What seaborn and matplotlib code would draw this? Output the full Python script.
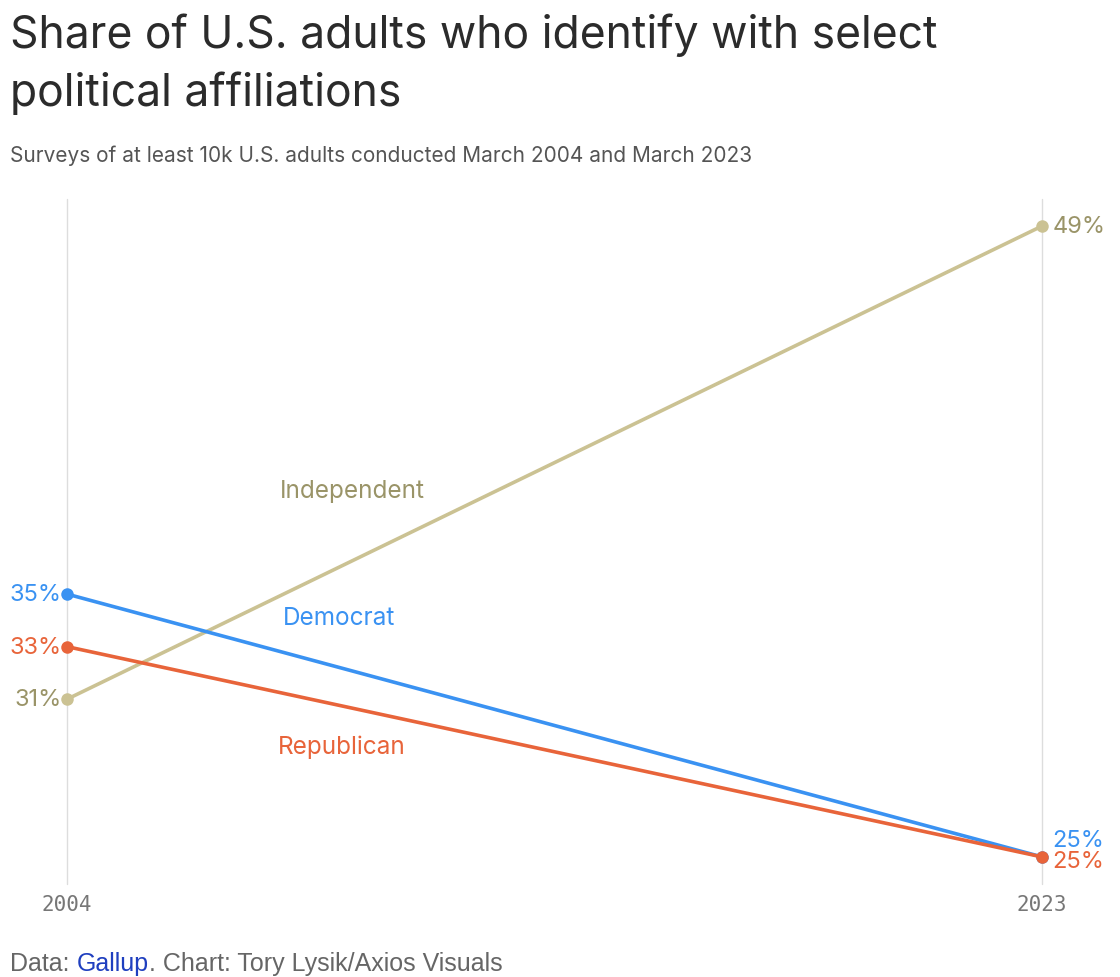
import numpy as np
import pandas as pd
import seaborn as sns
import matplotlib.pyplot as plt

years = [2004, 2023]
parties = ['Independent', 'Democrat', 'Republican']
independent = [31, 49]
democrat = [35, 25]
republican = [33, 25]

line_colors = {'Independent': '#cbc293', 'Democrat': '#3a92f2', 'Republican': '#e8643a'}
text_colors = {'Independent': '#9a9468', 'Democrat': '#3a92f2', 'Republican': '#e8643a'}

df = pd.DataFrame({
    'year': years * 3,
    'party': [p for p in parties for _ in years],
    'share': independent + democrat + republican,
})

sns.set_style('white')
plt.rcParams['font.family'] = ['Inter', 'DejaVu Sans']

fig = plt.figure(figsize=(11.2, 9.78), dpi=100)
ax = fig.add_axes([67 / 1120, 1 - 885 / 978, 975 / 1120, 685 / 978])

sns.lineplot(data=df, x='year', y='share', hue='party', palette=line_colors,
             linewidth=2.6, marker='o', markersize=9, markeredgewidth=0,
             legend=False, ax=ax, clip_on=False)

ax.set_xlim(2004, 2023)
ax.set_ylim(23.97, 50.03)
for x in years:
    ax.axvline(x, color='#dddddd', linewidth=1, zorder=0, clip_on=False)
for s in ax.spines.values():
    s.set_visible(False)
ax.set_yticks([])
ax.set_xticks(years)
ax.set_xticklabels([str(y) for y in years], family='DejaVu Sans Mono',
                   fontsize=15, color='#777777')
ax.tick_params(axis='x', length=0, pad=7)
ax.set_xlabel('')
ax.set_ylabel('')

# endpoint labels
vals = {'Independent': independent, 'Democrat': democrat, 'Republican': republican}
end_offset = {'Independent': 0, 'Democrat': 0.65, 'Republican': -0.15}
for p in parties:
    v0, v1 = vals[p]
    ax.text(2004 - 0.1, v0, f'{v0}%', ha='right', va='center', fontsize=17,
            color=text_colors[p])
    ax.text(2023 + 0.2, v1 + end_offset[p], f'{v1}%', ha='left', va='center',
            fontsize=17, color=text_colors[p])

# series labels
ax.text(2008.15, 38.95, 'Independent', fontsize=17.5, color=text_colors['Independent'], va='center')
ax.text(2008.2, 34.1, 'Democrat', fontsize=17.5, color=text_colors['Democrat'], va='center')
ax.text(2008.1, 29.2, 'Republican', fontsize=17.5, color=text_colors['Republican'], va='center')

fig.text(10 / 1120, 1 - 13 / 978, 'Share of U.S. adults who identify with select\npolitical affiliations',
         fontsize=32, color='#2b2b2b', va='top', ha='left', linespacing=1.42)
fig.text(10 / 1120, 1 - 156 / 978, 'Surveys of at least 10k U.S. adults conducted March 2004 and March 2023',
         fontsize=15, color='#555555', va='center', ha='left')

foot_y = 1 - 964 / 978
t1 = fig.text(10 / 1120, foot_y, 'Data: ', fontsize=18, color='#666666',
              family='Liberation Sans', va='center')
fig.canvas.draw()
bb = t1.get_window_extent()
t2 = fig.text(bb.x1 / 1120, foot_y, 'Gallup', fontsize=18, color='#1f3fbf',
              family='Liberation Sans', va='center')
bb = t2.get_window_extent()
fig.text(bb.x1 / 1120, foot_y, '. Chart: Tory Lysik/Axios Visuals', fontsize=18,
         color='#666666', family='Liberation Sans', va='center')

fig.savefig('out.png', dpi=100)
